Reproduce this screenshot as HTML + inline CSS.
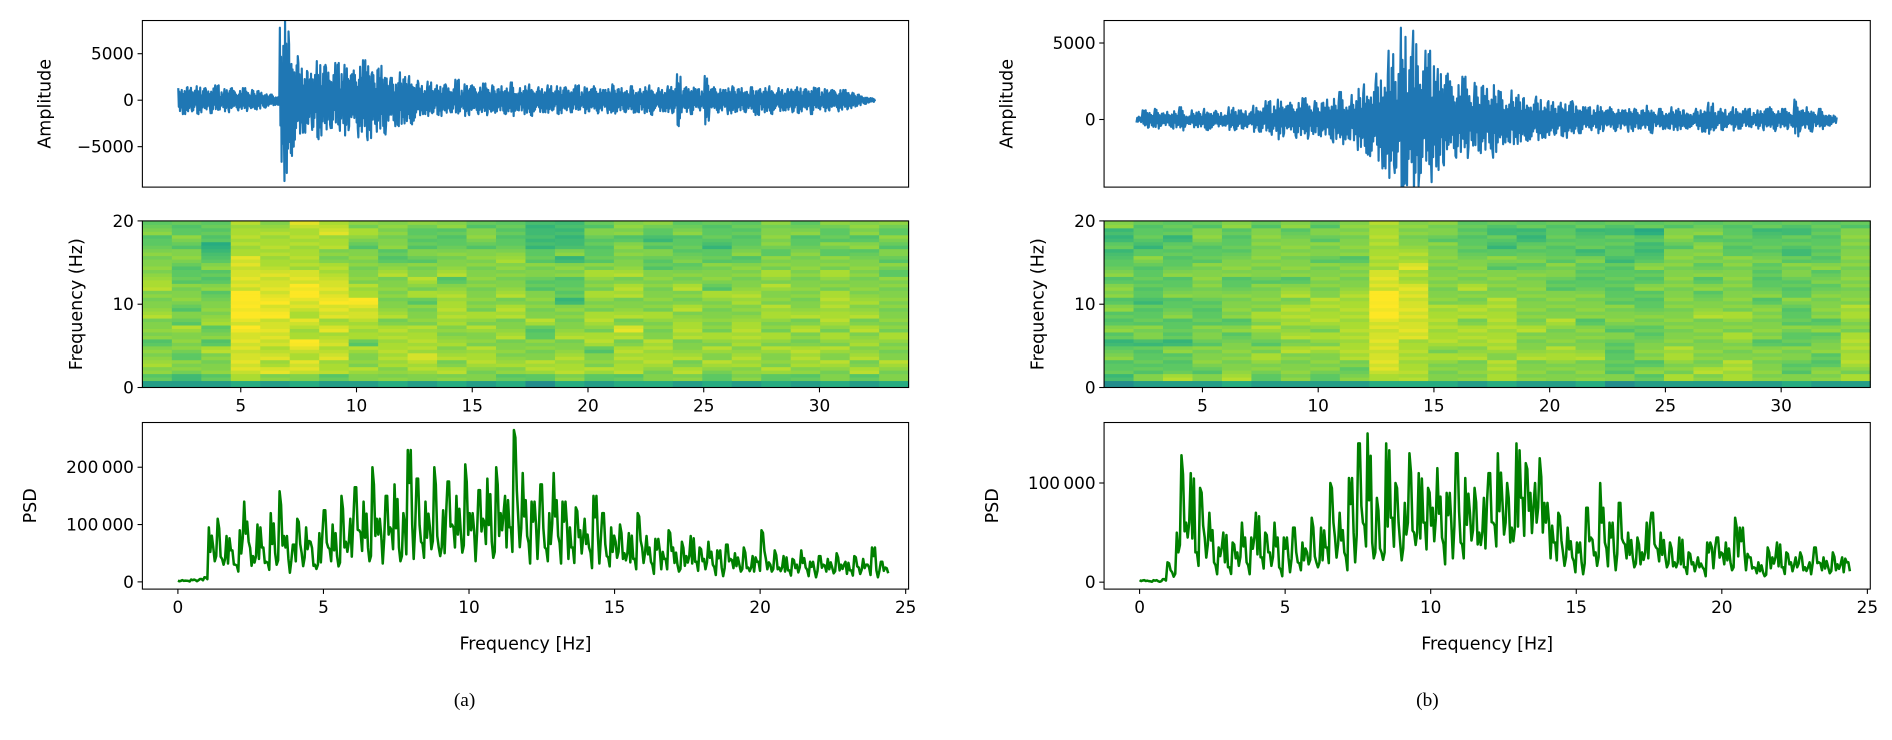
<!DOCTYPE html>
<html><head><meta charset="utf-8">
<style>
html,body{margin:0;padding:0;background:#fff;}
svg{display:block;font-family:"DejaVu Sans","Liberation Sans",sans-serif;}
</style></head>
<body>
<svg id="fig" width="1892" height="740" viewBox="0 0 1568 613" preserveAspectRatio="none" xmlns="http://www.w3.org/2000/svg"></svg>
<script>
// ---- data ----
const waveA = [1300,-1500,1400,-1200,1500,-1300,1100,-1400,1600,-1000,1200,-1300,1000,-1100,1300,-900,1100,-1000,800,-700,600,-500,
7800,-8700,6000,-5000,4000,-3500,3000,-3200,4200,-3800,3500,-3000,4000,-3300,3800,-2800,3200,-4000,4300,-4300,3000,-3400,3700,-2600,2400,-2800,3000,-2500,2600,-2200,
1800,-1500,2000,-1400,1600,-1700,1500,-1300,2200,-1200,1700,-1600,1400,-1500,1800,-1300,1600,-1200,1500,-1400,1900,-1100,1300,-1500,1700,-1200,1400,-1300,1600,-1100,1500,-1400,1200,-1300,1600,-1000,1400,-1200,1500,-1300,1100,-1400,1700,-1200,1300,-1100,1500,-1300,1200,-1400,1600,-1000,1300,-1200,1500,-1400,2800,-1300,1400,-1500,1200,-1100,2600,-1200,1400,-1300,1100,-1500,1500,-1200,1300,-1000,1400,-1600,1200,-1300,1500,-1000,1300,-1100,1200,-1300,1400,-1200,1100,-1500,1300,-1000,1200,-1100,1000,-1200,1100,-900,800,-600,400,-300,200];
const waveB = [-200,600,-500,700,-400,500,-600,800,-300,600,-500,700,-600,500,-400,800,-700,600,-500,900,-800,1200,-1000,1300,-900,1100,-1200,1400,-1000,1200,-1100,1300,-1500,1800,-1300,1600,-2000,2300,-2400,3000,-3200,4500,-3500,6000,-4300,5800,-3500,4500,-4100,3300,-3000,2500,-2500,2800,-1800,2400,-2200,2000,-2500,1800,-1500,1900,-1600,1400,-1300,1500,-1200,1200,-1000,1100,-1200,1000,-900,800,-700,900,-600,800,-700,600,-800,700,-600,900,-500,700,-600,800,-700,600,-500,700,-800,1100,-600,700,-500,800,-600,700,-500,600,-700,800,-600,700,-500,1300,-600,800,-500,700,-400,-300];
// fine oscillation texture (relative amplitude of sub-samples within each envelope value)
const waveTexture = [1,-0.55,0.7,-0.9,0.35,-0.6,0.85,-0.4,0.6,-0.75,0.45,-0.95,0.65];
const waveTimeA = [2.3, 32.4];
const waveTimeB = [2.15, 32.4];

const psdA = [2,3,2,4,3,5,8,95,60,110,40,80,55,30,90,140,70,45,100,60,35,120,50,158,80,40,65,110,50,95,70,30,85,125,60,100,45,150,70,110,165,90,140,60,200,110,80,150,95,170,60,120,230,100,180,70,140,95,200,60,125,175,100,150,85,205,120,90,160,110,180,70,200,120,150,95,265,110,190,80,140,100,170,60,120,190,80,140,100,60,130,90,110,60,150,80,120,45,95,70,100,50,85,40,120,60,80,35,75,55,40,90,60,30,70,45,80,35,60,40,70,30,55,25,65,40,50,30,60,25,45,35,90,40,30,55,25,45,20,40,30,55,25,35,20,45,30,40,25,50,30,35,20,45,25,40,30,60,20,35,25];
const psdB = [2,2,1,2,1,3,20,10,50,128,60,110,30,95,45,70,20,35,50,15,40,30,60,20,45,70,25,50,30,60,15,45,25,55,20,40,30,65,20,55,35,100,45,70,30,105,50,140,60,150,40,85,30,140,65,100,40,80,130,50,110,60,95,75,115,45,90,60,130,40,105,70,95,50,85,110,60,130,80,100,55,140,85,120,90,100,125,80,60,40,70,30,55,25,40,20,75,45,30,100,40,60,30,80,40,50,25,45,30,60,70,35,50,25,40,20,45,15,30,20,25,15,40,35,45,30,40,20,65,55,30,25,15,20,10,35,25,40,15,30,20,25,30,15,20,35,20,25,15,30,18,25,20];
const psdTexture = [1,0.55,0.85,0.4,0.95,0.6,0.75];
const psdFreqRange = [0, 24.4];

const specA = ["256766566676667766665565","246656667565666555665655","256667565766656556543555","378888889899998888877777","268787888898988887777776","368878977878899887777778","257787878788988877667787","267667577788977666665676","366777777676666676556666","267787777666576766565556","367676766777776576665556","266777667676666666665665","356766676677676666765555","157766655766665566554444","367776676666455566464444","257665776776676676555565","357777678676677676666566","366777766676666665565456","267676677767667665655565","356767676666675666554555","266776777766776666565555","357667676677667676656666","256777667676666666665565","366767676777776676656556","257676767676766666656566","366766676666666656565656"];
const specB = ["145565456556566565545446","265555466555455555654555","275556455565565565555455","265666566555566666555665","376666656566665566655556","256676567676666566666665","266667676777676566666656","256667676777766666566565","265677777777776666566666","378888888899998887777777","377777788888888778776666","366676777777666666666566","266676777677667666655555","377767777777766665654545","266676667666666665655445","266677666766665566555555","366676666566665555645545","165555565666555555455545","256566655665556556544535","276677666666666666665665","267666666676656565666565","277766676676666666655555","266666566666565555655545","365566556555655566545545","266556656566665656555555","276777776677666666666665"];
const specTexture = [0,-0.4,0.3,-0.2,0.4,0];
const specFreqMax = 20;

const waveTicksA = [-5000, 0, 5000];
const waveTicksB = [0, 5000];
const timeTicks = [5, 10, 15, 20, 25, 30];
const specTicks = [0, 10, 20];
const psdTicksA = [0, 100000, 200000];
const psdTicksB = [0, 100000];
const freqTicks = [0, 5, 10, 15, 20, 25];

// ---- drawing ----
const NS = "http://www.w3.org/2000/svg";
const svg = document.getElementById('fig');
function el(tag, attrs, parent){ const e=document.createElementNS(NS,tag); for(const k in attrs) e.setAttribute(k,attrs[k]); (parent||svg).appendChild(e); return e; }
function lin(d0,d1,r0,r1){ return v => r0 + (v-d0)/(d1-d0)*(r1-r0); }
function fmt(v){ const s=Math.abs(v).toString(); let out = s.length>5 ? s.slice(0,s.length-3)+"\u2009"+s.slice(-3) : s; return (v<0?"\u2212":"")+out; }
const viridis=[[0,[68,1,84]],[0.25,[59,82,139]],[0.5,[33,145,140]],[0.625,[40,174,128]],[0.75,[94,201,98]],[0.875,[170,220,50]],[1,[253,231,37]]];
function cmap(t){ t=Math.max(0,Math.min(1,t)); for(let i=1;i<viridis.length;i++){ if(t<=viridis[i][0]){ const a=viridis[i-1],b=viridis[i]; const f=(t-a[0])/(b[0]-a[0]); return 'rgb('+a[1].map((c,j)=>Math.round(c+(b[1][j]-c)*f)).join(',')+')'; } } return 'rgb(253,231,37)'; }

const ROWS={wave:[17,155], spec:[183,321], psd:[350,488]};
const defs = el('defs',{});

function frame(g,x0,x1,y0,y1,name){
  const r = el('rect',{x:x0,y:y0,width:x1-x0,height:y1-y0,fill:'none',stroke:'#000','stroke-width':0.9},g);
  
  
}
function clip(id,x0,x1,y0,y1){
  const c=el('clipPath',{id:id},defs);
  el('rect',{x:x0,y:y0,width:x1-x0,height:y1-y0},c);
  return 'url(#'+id+')';
}
function yTicks(g,ticks,sy,x0,name){
  ticks.forEach(v=>{ const y=sy(v);
    el('line',{x1:x0-4,x2:x0,y1:y,y2:y,stroke:'#000','stroke-width':0.9},g);
    const t=el('text',{x:x0-7,y:y+5,'text-anchor':'end','font-size':14,fill:'#000'},g); t.textContent=fmt(v);
    
    
  });
}
function xTicks(g,ticks,sx,y1,name){
  ticks.forEach(v=>{ const x=sx(v);
    el('line',{x1:x,x2:x,y1:y1,y2:y1+4,stroke:'#000','stroke-width':0.9},g);
    const t=el('text',{x:x,y:y1+20,'text-anchor':'middle','font-size':14,fill:'#000'},g); t.textContent=fmt(v);
    
    
  });
}
function ylabel(g,x,y,txt,name){
  const t=el('text',{x:x,y:y,'text-anchor':'middle','font-size':14.5,fill:'#000',transform:'rotate(-90 '+x+' '+y+')'},g); t.textContent=txt;
  
  
}

function panel(cfg){
  const g=el('g',{});
  
  
  const {x0,x1}=cfg;
  // waveform
  const [wy0,wy1]=ROWS.wave;
  const sxT=lin(0.75,33.85,x0,x1);
  const syW=lin(cfg.wlim[0],cfg.wlim[1],wy1,wy0);
  const n=cfg.wave.length, K=8, tot=n*K;
  let d='', k=0;
  cfg.wave.forEach((v,i)=>{
    const sg = Math.sign(v)||1;
    for(let j=0;j<K;j++){
      const idx=i*K+j;
      const t=cfg.wt[0]+(cfg.wt[1]-cfg.wt[0])*idx/(tot-1);
      const val = j===0 ? v : Math.abs(v)*Math.abs(waveTexture[(idx+i)%waveTexture.length])*(j%2? -sg : sg);
      d+=(k++?'L':'M')+sxT(t).toFixed(2)+' '+syW(val).toFixed(2);
    }
  });
  const wp=el('path',{d:d,fill:'none',stroke:'#1f77b4','stroke-width':1.8,'stroke-linejoin':'round','clip-path':clip(cfg.name+'-wclip',x0,x1,wy0,wy1)},g);
  
  
  frame(g,x0,x1,wy0,wy1,'waveform-axes');
  yTicks(g,cfg.wticks,syW,x0,'amplitude-tick-label');
  ylabel(g,x0-76,(wy0+wy1)/2,'Amplitude','amplitude-axis-title');
  // spectrogram
  const [sy0,sy1]=ROWS.spec;
  const syS=lin(0,specFreqMax,sy1,sy0);
  const cols=cfg.spec.length, colW=(33.85-0.75)/cols;
  const SUB=2;
  cfg.spec.forEach((colStr,ci)=>{
    const nr=colStr.length;
    for(let ri=0;ri<nr;ri++){
      const dv=+colStr[ri];
      for(let s=0;s<SUB;s++){
        const xa=sxT(0.75+ci*colW), xb=sxT(0.75+(ci+1)*colW);
        const ya=syS(specFreqMax*(ri*SUB+s)/(nr*SUB)), yb=syS(specFreqMax*(ri*SUB+s+1)/(nr*SUB));
        const dd = ri===0 ? dv : dv + specTexture[(ri*SUB+s+ci*3)%specTexture.length];
        const c=el('rect',{x:xa,y:yb,width:xb-xa+0.4,height:ya-yb+0.4,fill:cmap(0.42+dd*0.065)},g);
        
        
      }
    }
  });
  frame(g,x0,x1,sy0,sy1,'spectrogram-axes');
  yTicks(g,specTicks,syS,x0,'frequency-tick-label');
  xTicks(g,timeTicks,sxT,sy1,'time-tick-label');
  ylabel(g,x0-50,(sy0+sy1)/2,'Frequency (Hz)','spectrogram-y-axis-title');
  // PSD
  const [py0,py1]=ROWS.psd;
  const sxF=lin(-1.22,25.1,x0,x1);
  const syP=lin(cfg.plim[0],cfg.plim[1],py1,py0);
  const m=cfg.psd.length, P=3, ptot=m*P; let pd='', q=0;
  cfg.psd.forEach((v,i)=>{
    for(let j=0;j<P;j++){
      const idx=i*P+j;
      const f=psdFreqRange[0]+(psdFreqRange[1]-psdFreqRange[0])*idx/(ptot-1);
      const val = j===0 ? v : v*psdTexture[(idx+i)%psdTexture.length];
      pd+=(q++?'L':'M')+sxF(f).toFixed(2)+' '+syP(val*1000).toFixed(2);
    }
  });
  const pp=el('path',{d:pd,fill:'none',stroke:'#008000','stroke-width':2.1,'stroke-linejoin':'round','clip-path':clip(cfg.name+'-pclip',x0,x1,py0,py1)},g);
  
  
  frame(g,x0,x1,py0,py1,'psd-axes');
  yTicks(g,cfg.pticks,syP,x0,'psd-tick-label');
  xTicks(g,freqTicks,sxF,py1,'psd-frequency-tick-label');
  ylabel(g,x0-88,(py0+py1)/2,'PSD','psd-axis-title');
  const xl=el('text',{x:(x0+x1)/2,y:538,'text-anchor':'middle','font-size':14.5,fill:'#000'},g); xl.textContent='Frequency [Hz]';
  
  
  const cap=el('text',{x:cfg.capX,y:585,'text-anchor':'middle','font-size':16,fill:'#000','font-family':'Liberation Serif, serif'},g); cap.textContent=cfg.caption;
  
  
}

panel({name:'panel-a',x0:118,x1:753,capX:385,wave:waveA,wt:waveTimeA,wlim:[-9350,8570],wticks:waveTicksA,spec:specA,psd:psdA,plim:[-12600,278000],pticks:psdTicksA,caption:'(a)'});
panel({name:'panel-b',x0:915,x1:1550,capX:1183,wave:waveB,wt:waveTimeB,wlim:[-4420,6470],wticks:waveTicksB,spec:specB,psd:psdB,plim:[-7000,161000],pticks:psdTicksB,caption:'(b)'});
</script>
</body></html>
